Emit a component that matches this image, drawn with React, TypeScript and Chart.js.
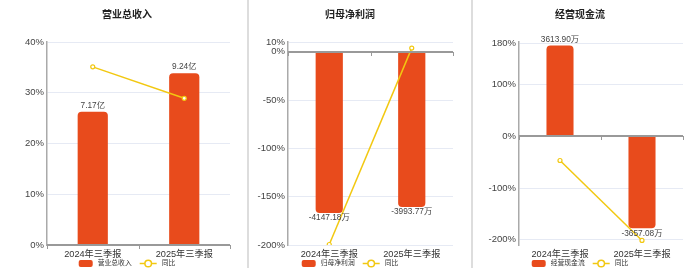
import React, { useEffect, useRef } from "react";
import { Chart, registerables } from "chart.js";
Chart.register(...registerables);

const categories = ["2024年三季报", "2025年三季报"];

const revenueTitle = "营业总收入";
const revenueValues = [7.17, 9.24];
const revenueYoY = [35.1, 28.9];
const revenueLabels = ["7.17亿", "9.24亿"];
const revenueTicks = [0, 10, 20, 30, 40];

const profitTitle = "归母净利润";
const profitValues = [-4147.18, -3993.77];
const profitYoY = [-199.5, 3.7];
const profitLabels = ["-4147.18万", "-3993.77万"];
const profitTicks = [-200, -150, -100, -50, 0, 10];

const cashTitle = "经营现金流";
const cashValues = [3613.9, -3657.08];
const cashYoY = [-46.8, -201.2];
const cashLabels = ["3613.90万", "-3657.08万"];
const cashTicks = [-200, -100, 0, 100, 180];

const yoyName = "同比";

const BAR = "#E84B1C";
const LINE = "#F2C811";
const FONT = "'Liberation Sans', 'Noto Sans CJK SC', sans-serif";

type Panel = {
  title: string;
  values: number[];
  yoy: number[];
  labels: string[];
  ticks: number[];
  yMin: number;
  yMax: number;
  k: number;
  left: number;
  width: number;
  axisW: number;
  pad: number;
};

const panels: Panel[] = [
  { title: revenueTitle, values: revenueValues, yoy: revenueYoY, labels: revenueLabels, ticks: revenueTicks,
    yMin: 0, yMax: 40, k: 0.273, left: 0, width: 254, axisW: 47, pad: 24 },
  { title: profitTitle, values: profitValues, yoy: profitYoY, labels: profitLabels, ticks: profitTicks,
    yMin: -200, yMax: 10, k: 24.86, left: 240, width: 220, axisW: 48, pad: 7 },
  { title: cashTitle, values: cashValues, yoy: cashYoY, labels: cashLabels, ticks: cashTicks,
    yMin: -210, yMax: 182, k: 20.6, left: 470, width: 220, axisW: 49, pad: 7 },
];

const zeroLinePlugin = {
  id: "zeroLine",
  afterDraw(chart: any) {
    const { ctx, chartArea, scales } = chart;
    const y = Math.round(scales.y.getPixelForValue(0));
    ctx.save();
    ctx.strokeStyle = "#999";
    ctx.lineWidth = 2;
    ctx.beginPath();
    ctx.moveTo(chartArea.left, y);
    ctx.lineTo(chartArea.right, y);
    ctx.stroke();
    ctx.lineWidth = 1;
    const n = chart.data.labels.length;
    const step = (chartArea.right - chartArea.left) / n;
    for (let i = 0; i <= n; i++) {
      const x = Math.round(chartArea.left + i * step) + 0.5;
      ctx.beginPath();
      ctx.moveTo(x, y);
      ctx.lineTo(x, y + 4);
      ctx.stroke();
    }
    ctx.restore();
  },
};

const valueLabelPlugin = {
  id: "valueLabels",
  afterDatasetsDraw(chart: any) {
    const { ctx } = chart;
    const meta = chart.getDatasetMeta(0);
    const labels: string[] = chart.options.plugins.valueLabels.labels;
    const vals: number[] = chart.data.datasets[0].data;
    ctx.save();
    ctx.font = `8.3px ${FONT}`;
    ctx.fillStyle = "#444";
    ctx.textAlign = "center";
    meta.data.forEach((el: any, i: number) => {
      if (vals[i] >= 0) {
        ctx.textBaseline = "bottom";
        ctx.fillText(labels[i], el.x, el.y - 2);
      } else {
        ctx.textBaseline = "top";
        ctx.fillText(labels[i], el.x, el.y + 1);
      }
    });
    ctx.restore();
  },
};

const legendPlugin = {
  id: "miniLegend",
  afterDraw(chart: any) {
    const { ctx } = chart;
    const names: string[] = chart.data.datasets.map((d: any) => d.label);
    const cy = 263.5;
    ctx.save();
    ctx.font = `6.8px ${FONT}`;
    const w0 = ctx.measureText(names[0]).width;
    const w1 = ctx.measureText(names[1]).width;
    const total = 14 + 5 + w0 + 8 + 17 + 5 + w1;
    let x = chart.width / 2 - total / 2;
    ctx.fillStyle = chart.data.datasets[0].backgroundColor;
    ctx.beginPath();
    ctx.roundRect(x, cy - 3.5, 14, 7, 2);
    ctx.fill();
    x += 19;
    ctx.fillStyle = "#333";
    ctx.textBaseline = "middle";
    ctx.textAlign = "left";
    ctx.fillText(names[0], x, cy);
    x += w0 + 8;
    const lc = chart.data.datasets[1].borderColor;
    ctx.strokeStyle = lc;
    ctx.lineWidth = 1.5;
    ctx.beginPath();
    ctx.moveTo(x, cy);
    ctx.lineTo(x + 17, cy);
    ctx.stroke();
    ctx.fillStyle = "#fff";
    ctx.beginPath();
    ctx.arc(x + 8.5, cy, 3.3, 0, Math.PI * 2);
    ctx.fill();
    ctx.stroke();
    x += 22;
    ctx.fillStyle = "#333";
    ctx.fillText(names[1], x, cy);
    ctx.restore();
  },
};

function PanelChart({ p }: { p: Panel }) {
  const ref = useRef<HTMLCanvasElement>(null);
  useEffect(() => {
    const chart = new Chart(ref.current!, {
      type: "bar",
      data: {
        labels: categories,
        datasets: [
          {
            type: "bar",
            label: p.title,
            data: p.values,
            backgroundColor: BAR,
            borderRadius: 4,
            borderSkipped: "start",
            barPercentage: 0.33,
            categoryPercentage: 1,
            yAxisID: "y1",
            order: 1,
          } as any,
          {
            type: "line",
            label: yoyName,
            data: p.yoy,
            borderColor: LINE,
            borderWidth: 1.5,
            pointRadius: 2,
            pointBackgroundColor: "#fff",
            pointBorderColor: LINE,
            pointBorderWidth: 1.2,
            yAxisID: "y",
            order: 0,
          } as any,
        ],
      },
      options: {
        animation: false,
        responsive: false,
        maintainAspectRatio: false,
        layout: { padding: { top: 8.5, right: p.pad, left: p.pad, bottom: 10 } },
        scales: {
          x: {
            grid: { display: false, drawTicks: false },
            border: { display: false },
            afterFit: (scale: any) => {
              scale.height = 17;
            },
            ticks: { color: "#333", font: { size: 9.2, family: FONT }, padding: 4, maxRotation: 0 },
          },
          y: {
            min: p.yMin,
            max: p.yMax,
            afterBuildTicks: (axis: any) => {
              axis.ticks = p.ticks.map((v) => ({ value: v }));
            },
            afterFit: (scale: any) => {
              scale.width = p.axisW - p.pad;
            },
            grid: { color: "#E6EAF4", drawTicks: false, lineWidth: 1 },
            border: { display: true, color: "#aaa", width: 1.5 },
            ticks: {
              color: "#444",
              padding: 3,
              font: { size: 9.5, family: FONT },
              callback: (v: any) => `${v}%`,
            },
          },
          y1: {
            display: false,
            min: p.yMin * p.k,
            max: p.yMax * p.k,
          },
        },
        plugins: {
          title: {
            display: true,
            text: p.title,
            color: "#222",
            font: { size: 10, weight: "bold", family: "'Noto Sans CJK SC', sans-serif", lineHeight: 1.2 },
            padding: { top: 0, bottom: 21.5 },
          },
          tooltip: { enabled: false },
          legend: { display: false },
          valueLabels: { labels: p.labels },
        } as any,
      },
      plugins: [zeroLinePlugin, valueLabelPlugin, legendPlugin],
    });
    return () => chart.destroy();
  }, []);
  return (
    <canvas
      ref={ref}
      width={p.width}
      height={272}
      style={{ position: "absolute", left: p.left, top: 0, width: p.width, height: 272 }}
    />
  );
}

export default function App() {
  return (
    <div style={{ position: "absolute", left: 0, top: 0, width: 700, height: 272, background: "#fff", overflow: "hidden" }}>
      <div style={{ position: "absolute", left: 247, top: 0, width: 2, height: 268, background: "#ddd" }} />
      <div style={{ position: "absolute", left: 471, top: 0, width: 2, height: 268, background: "#ddd" }} />
      {panels.map((p, i) => (
        <PanelChart key={i} p={p} />
      ))}
    </div>
  );
}
